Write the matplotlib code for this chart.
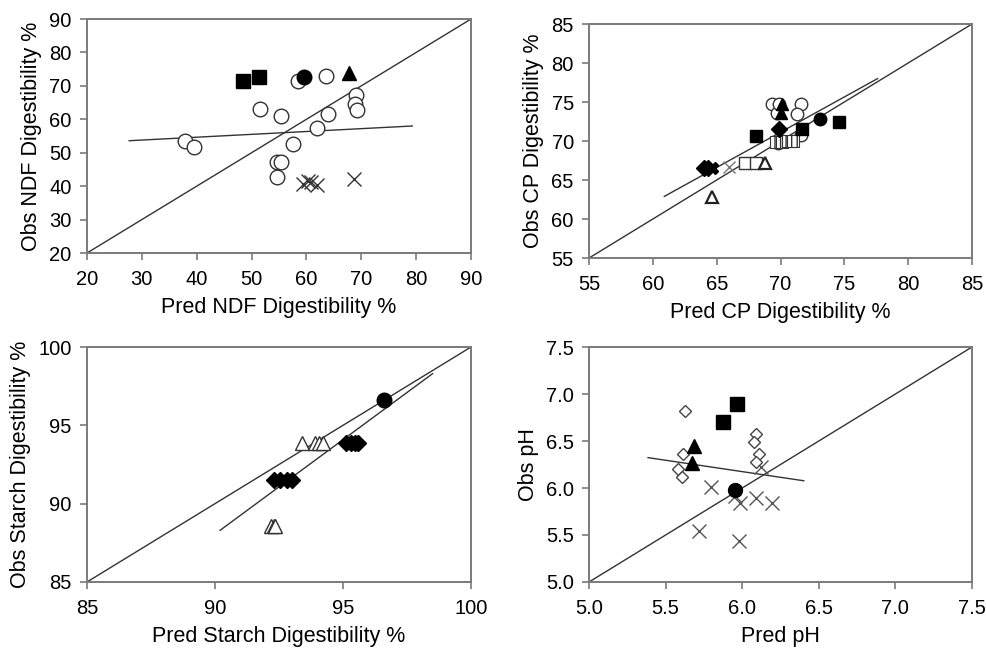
import matplotlib
matplotlib.use('Agg')
import matplotlib.pyplot as plt
import numpy as np

plt.rcParams['font.family'] = ['Liberation Sans', 'DejaVu Sans']

# ---- panel A: NDF digestibility
ndf_sq_x = [48.4, 51.3]
ndf_sq_y = [71.6, 72.6]
ndf_ci_x = [59.5]
ndf_ci_y = [72.6]
ndf_tri_x = [67.7]
ndf_tri_y = [74.0]
ndf_open_x = [58.5, 63.5, 69.0, 68.8, 69.2, 51.5, 55.4, 63.9, 62.0, 57.6, 37.8, 39.6, 54.7, 55.3, 54.7]
ndf_open_y = [71.6, 72.9, 67.4, 64.7, 62.9, 63.2, 60.9, 61.5, 57.4, 52.6, 53.5, 51.6, 47.3, 47.3, 42.6]
ndf_x_x = [59.3, 60.2, 60.9, 62.0, 68.7]
ndf_x_y = [40.8, 41.5, 41.3, 40.5, 42.0]
ndf_fit_x = [27.7, 79.3]
ndf_fit_y = [53.6, 58.0]

# ---- panel B: CP digestibility
cp_sq_x = [74.6, 71.7, 68.1]
cp_sq_y = [72.5, 71.5, 70.7]
cp_ci_x = [73.1]
cp_ci_y = [72.8]
cp_tri_x = [70.1, 70.0]
cp_tri_y = [74.8, 73.6]
cp_open_x = [69.3, 71.6, 71.3, 69.7, 69.8, 71.6, 69.9]
cp_open_y = [74.8, 74.7, 73.4, 73.6, 69.7, 70.8, 74.8]
cp_dia_x = [69.9, 64.0, 64.3]
cp_dia_y = [71.6, 66.6, 66.6]
cp_fx_x = [64.6]
cp_fx_y = [66.6]
cp_osq_x = [67.2, 68.1]
cp_osq_y = [67.2, 67.2]
cp_otri_x = [68.8, 64.6]
cp_otri_y = [67.2, 62.8]
cp_hatch_x = [69.6, 70.1, 70.6, 71.0]
cp_hatch_y = [69.9, 69.9, 70.0, 70.0]
cp_gx_x = [66.0]
cp_gx_y = [66.7]
cp_fit_x = [60.9, 77.6]
cp_fit_y = [62.9, 78.0]

# ---- panel C: starch digestibility
st_ci_x = [96.6]
st_ci_y = [96.6]
st_otri_x = [93.4, 93.9, 94.05, 94.2, 92.2, 92.3, 92.35]
st_otri_y = [93.9, 93.9, 93.9, 93.9, 88.6, 88.6, 88.6]
st_dia_x = [95.1, 95.3, 95.45, 95.6, 92.3, 92.55, 92.8, 93.0]
st_dia_y = [93.9, 93.9, 93.9, 93.9, 91.5, 91.5, 91.5, 91.5]
st_fit_x = [90.2, 98.5]
st_fit_y = [88.3, 98.3]

# ---- panel D: pH
ph_sq_x = [5.874, 5.965]
ph_sq_y = [6.70, 6.895]
ph_tri_x = [5.685, 5.672]
ph_tri_y = [6.447, 6.27]
ph_ci_x = [5.954]
ph_ci_y = [5.978]
ph_dia_x = [5.628, 5.613, 5.58, 5.609, 6.091, 6.076, 6.107, 6.087]
ph_dia_y = [6.814, 6.358, 6.20, 6.12, 6.575, 6.486, 6.358, 6.273]
ph_x_x = [5.798, 5.983, 6.091, 6.193, 5.717, 5.976, 6.124, 5.95]
ph_x_y = [6.013, 5.843, 5.889, 5.836, 5.541, 5.437, 6.227, 5.92]
ph_fit_x = [5.385, 6.402]
ph_fit_y = [6.323, 6.077]

spine_col = '#7a7a7a'
line_col = '#333333'


def style_axes(ax, lo, hi, ticks, ticklabels, xlabel, ylabel):
    ax.set_xlim(lo, hi)
    ax.set_ylim(lo, hi)
    ax.set_xticks(ticks)
    ax.set_yticks(ticks)
    ax.set_xticklabels(ticklabels)
    ax.set_yticklabels(ticklabels)
    for s in ax.spines.values():
        s.set_color(spine_col)
        s.set_linewidth(1.4)
    ax.tick_params(direction='out', length=5, width=1.2, color=spine_col,
                   labelsize=14.5)
    ax.tick_params(axis='x', pad=7)
    ax.tick_params(axis='y', pad=6)
    ax.set_xlabel(xlabel, fontsize=15.5, labelpad=6)
    ax.set_ylabel(ylabel, fontsize=15.5, labelpad=5)
    # 1:1 line
    ax.plot([lo, hi], [lo, hi], color=line_col, lw=1.0, zorder=1)


fig = plt.figure(figsize=(9.87, 6.54), dpi=100)
ax1 = fig.add_axes([0.0881, 0.6131, 0.3891, 0.3578])
ax2 = fig.add_axes([0.5968, 0.6055, 0.3880, 0.3578])
ax3 = fig.add_axes([0.0881, 0.1101, 0.3891, 0.3593])
ax4 = fig.add_axes([0.5968, 0.1101, 0.3880, 0.3593])

# panel A
t = [20, 30, 40, 50, 60, 70, 80, 90]
style_axes(ax1, 20, 90, t, [str(v) for v in t],
           'Pred NDF Digestibility %', 'Obs NDF Digestibility %')
ax1.plot(ndf_fit_x, ndf_fit_y, color=line_col, lw=1.0, zorder=1)
ms = 10.5
ax1.plot(ndf_open_x, ndf_open_y, 'o', ms=ms, mfc='white', mec='#333333', mew=1.0, ls='none', zorder=2)
ax1.plot(ndf_sq_x, ndf_sq_y, 's', ms=ms, mfc='black', mec='black', ls='none', zorder=3)
ax1.plot(ndf_ci_x, ndf_ci_y, 'o', ms=ms, mfc='black', mec='black', ls='none', zorder=3)
ax1.plot(ndf_tri_x, ndf_tri_y, '^', ms=ms, mfc='black', mec='black', ls='none', zorder=3)
ax1.plot(ndf_x_x, ndf_x_y, 'x', ms=ms, mec='#333333', mew=1.0, ls='none', zorder=3)

# panel B
t = [55, 60, 65, 70, 75, 80, 85]
style_axes(ax2, 55, 85, t, [str(v) for v in t],
           'Pred CP Digestibility %', 'Obs CP Digestibility %')
ax2.plot(cp_fit_x, cp_fit_y, color=line_col, lw=1.0, zorder=1)
ms = 9
ax2.plot(cp_gx_x, cp_gx_y, 'x', ms=ms, mec='#777777', mew=1.0, ls='none', zorder=2)
ax2.plot(cp_open_x, cp_open_y, 'o', ms=ms, mfc='white', mec='#333333', mew=1.0, ls='none', zorder=2)
ax2.plot(cp_osq_x, cp_osq_y, 's', ms=ms, mfc='white', mec='#333333', mew=1.0, ls='none', zorder=2)
ax2.plot(cp_otri_x, cp_otri_y, '^', ms=ms, mfc='white', mec='#222222', mew=1.6, ls='none', zorder=2)
ax2.scatter(cp_hatch_x, cp_hatch_y, marker='s', s=70, facecolor='white', edgecolor='#333333',
            hatch='|||', linewidth=0.8, zorder=3)
ax2.plot(cp_sq_x, cp_sq_y, 's', ms=ms, mfc='black', mec='black', ls='none', zorder=4)
ax2.plot(cp_ci_x, cp_ci_y, 'o', ms=ms, mfc='black', mec='black', ls='none', zorder=4)
ax2.plot(cp_tri_x, cp_tri_y, '^', ms=ms, mfc='black', mec='black', ls='none', zorder=4)
ax2.plot(cp_dia_x, cp_dia_y, 'D', ms=8, mfc='black', mec='black', ls='none', zorder=4)
ax2.plot(cp_fx_x, cp_fx_y, 'X', ms=9, mfc='black', mec='black', ls='none', zorder=4)

# panel C
t = [85, 90, 95, 100]
style_axes(ax3, 85, 100, t, [str(v) for v in t],
           'Pred Starch Digestibility %', 'Obs Starch Digestibility %')
ax3.plot(st_fit_x, st_fit_y, color=line_col, lw=1.0, zorder=1)
ms = 10.5
ax3.plot(st_otri_x, st_otri_y, '^', ms=ms, mfc='white', mec='#333333', mew=1.0, ls='none', zorder=2)
ax3.plot(st_dia_x, st_dia_y, 'D', ms=8.5, mfc='black', mec='black', ls='none', zorder=3)
ax3.plot(st_ci_x, st_ci_y, 'o', ms=ms, mfc='black', mec='black', ls='none', zorder=3)

# panel D
t = [5.0, 5.5, 6.0, 6.5, 7.0, 7.5]
style_axes(ax4, 5.0, 7.5, t, ['%.1f' % v for v in t],
           'Pred pH', 'Obs pH')
ax4.plot(ph_fit_x, ph_fit_y, color=line_col, lw=1.0, zorder=1)
ax4.plot(ph_x_x, ph_x_y, 'x', ms=10, mec='#555555', mew=1.0, ls='none', zorder=2)
ax4.plot(ph_dia_x, ph_dia_y, 'D', ms=6.5, mfc='white', mec='#444444', mew=1.0, ls='none', zorder=2)
ax4.plot(ph_sq_x, ph_sq_y, 's', ms=10, mfc='black', mec='black', ls='none', zorder=3)
ax4.plot(ph_tri_x, ph_tri_y, '^', ms=10, mfc='black', mec='black', ls='none', zorder=3)
ax4.plot(ph_ci_x, ph_ci_y, 'o', ms=10, mfc='black', mec='black', ls='none', zorder=3)

fig.savefig('out.png', dpi=100)
